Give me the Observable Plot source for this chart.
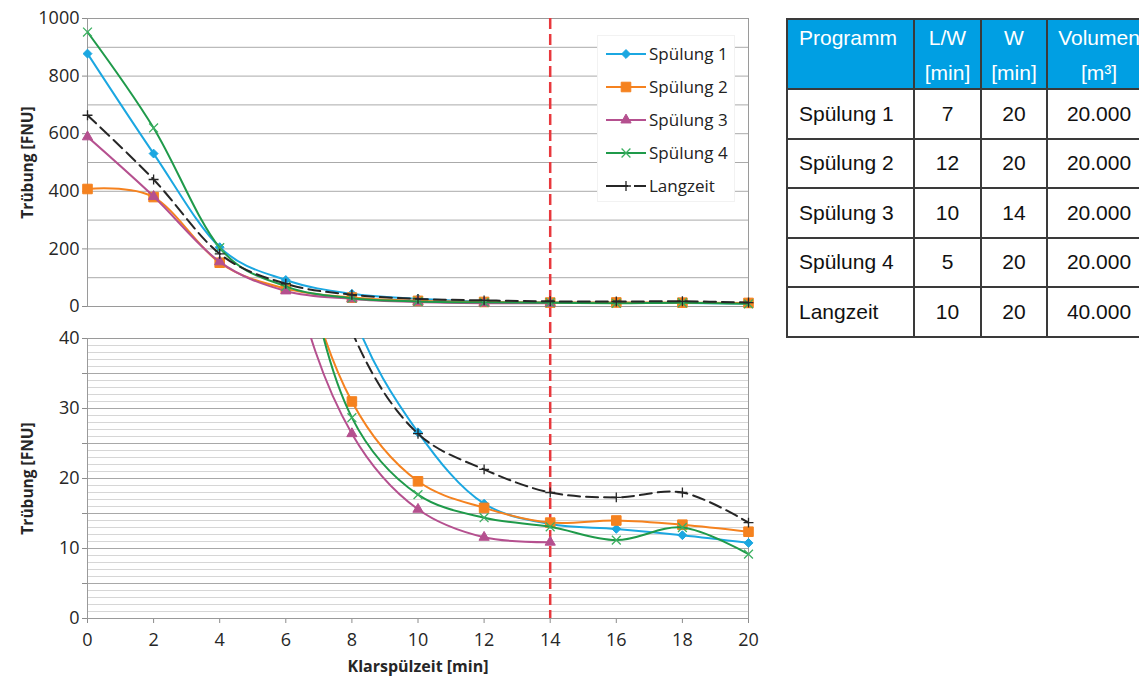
<!DOCTYPE html>
<html><head><meta charset="utf-8">
<script src="https://cdn.jsdelivr.net/npm/d3@7"></script>
<script src="https://cdn.jsdelivr.net/npm/@observablehq/plot@0.6"></script>
<style>
body{margin:0;background:#fff;overflow:hidden;}
#wrap{position:relative;width:1139px;height:681px;overflow:hidden;font-family:"Open Sans",sans-serif;}
#top,#bot{position:absolute;left:0;}
#top{top:0px} #bot{top:322px}
#top svg,#bot svg{display:block;overflow:visible}
#legend{position:absolute;left:597px;top:35px;width:138px;height:167px;background:#fff;border:1px solid #f2f2f2;box-sizing:border-box;padding-top:1px;}
.lrow{height:33px;display:flex;align-items:center;}
.lrow svg{margin-left:7px;flex:none}
.lrow span{margin-left:2px;font-size:17px;color:#222;font-family:"Open Sans",sans-serif;}
#tbl{position:absolute;left:786px;top:18px;width:364px;border-collapse:collapse;font-family:"Liberation Sans",Arial,sans-serif;font-size:21px;table-layout:fixed;}
#tbl td,#tbl th{border:2px solid #3a3a3a;padding:0;}
#tbl th{background:#009fe3;color:#fff;font-weight:normal;height:68px;vertical-align:top;text-align:center;}
#tbl th div{height:68px;line-height:35px;overflow:visible;}
#tbl th.first{text-align:left;padding-left:11px;}
#tbl td{height:47.5px;text-align:center;color:#111;}
#tbl td.first{text-align:left;padding-left:11px;}
</style></head>
<body>
<div id="wrap">
  <div id="top"></div>
  <div id="bot"></div>
  <div id="legend"></div>
  <table id="tbl"></table>
</div>
<script>
// ---- data ----
const xs = [0, 2, 4, 6, 8, 10, 12, 14, 16, 18, 20];
const names = ["Spülung 1", "Spülung 2", "Spülung 3", "Spülung 4", "Langzeit"];
const s1 = [878, 531, 206, 92, 44, 26.6, 16.4, 13.5, 12.8, 11.9, 10.8];
const s2 = [408, 380, 152, 62, 31.0, 19.6, 15.8, 13.7, 14.0, 13.4, 12.4];
const s3 = [589, 382, 155, 54, 26.4, 15.6, 11.6, 10.9];
const s4 = [953, 620, 204, 70, 28.7, 17.7, 14.4, 13.1, 11.2, 13.0, 9.2];
const lz = [664, 441, 183, 79, 41, 26.4, 21.3, 18.0, 17.3, 18.0, 13.7];
const markerX = 14;
const topTicks = [0, 200, 400, 600, 800, 1000];
const botTicks = [0, 5, 10, 15, 20, 25, 30, 35, 40];
const xTicks = [0, 2, 4, 6, 8, 10, 12, 14, 16, 18, 20];
const yLabel = "Trübung [FNU]";
const xLabel = "Klarspülzeit [min]";

const tableHead = [["Programm", ""], ["L/W", "[min]"], ["W", "[min]"], ["Volumen", "[m³]"]];
const programs = ["Spülung 1", "Spülung 2", "Spülung 3", "Spülung 4", "Langzeit"];
const lwMin = [7, 12, 10, 5, 10];
const wMin = [20, 20, 14, 20, 20];
const volumen = ["20.000", "20.000", "20.000", "20.000", "40.000"];

// ---- styles ----
const colors = ["#1ba7e1", "#f5821f", "#b5508f", "#1f9a4a", "#262626"];
const symbols = ["diamond2", "square", "triangle", "times", "plus"];
const radii = [4.0, 5.4, 3.8, 4.1, 3.3];
const filled = [true, true, true, false, false];
const markerStroke = ["#1ba7e1", "#f5821f", "#b5508f", "#3cb061", "#262626"];

const values = [s1, s2, s3, s4, lz];
const series = names.map((name, i) => ({
  name, i,
  data: values[i].map((v, j) => ({x: xs[j], y: v}))
}));

function seriesMarks(yMax, curve) {
  return series.flatMap(s => {
    const i = s.i;
    const pts = yMax == null ? s.data : s.data.filter(d => d.y <= yMax);
    const opts = {x: "x", y: "y", stroke: colors[i], strokeWidth: 2, curve,
        strokeDasharray: s.name === "Langzeit" ? "12,6" : undefined, clip: true};
    if (curve === "cardinal") opts.tension = 0;
    return [
      Plot.line(s.data, opts),
      Plot.dot(pts, {x: "x", y: "y", symbol: symbols[i], r: radii[i],
        fill: filled[i] ? colors[i] : "none", stroke: markerStroke[i], strokeWidth: filled[i] ? 1 : 1.3})
    ];
  });
}

const baseStyle = {fontFamily: "Open Sans", fontSize: "18px", color: "#262626", background: "transparent", overflow: "visible"};
const fmt = d => String(d);

const topPlot = Plot.plot({
  width: 770, height: 322, marginTop: 18, marginBottom: 16, marginLeft: 87, marginRight: 22,
  x: {domain: [0, 20], axis: null},
  y: {domain: [0, 1000]},
  style: baseStyle,
  marks: [
    Plot.gridY(d3.range(0, 1001, 100), {stroke: "#aaaaaa", strokeOpacity: 1}),
    Plot.axisY(topTicks, {tickSize: 5, tickPadding: 3, stroke: "#8c8c8c", fill: "#262626", label: null, fontSize: 18, tickFormat: fmt}),
    Plot.frame({stroke: "#9a9a9a"}),
    Plot.ruleX([markerX], {stroke: "#e8383d", strokeWidth: 2.5, strokeDasharray: "11,5", insetBottom: -16}),
    ...seriesMarks(null, "cardinal"),
    Plot.text([yLabel], {frameAnchor: "left", dx: -59, rotate: -90, textAnchor: "middle", fontWeight: "bold", fontSize: 15.5, fill: "#262626"})
  ]
});
document.getElementById("top").append(topPlot);

const botPlot = Plot.plot({
  width: 770, height: 359, marginTop: 16, marginBottom: 63, marginLeft: 87, marginRight: 22,
  x: {domain: [0, 20]},
  y: {domain: [0, 40]},
  style: baseStyle,
  marks: [
    Plot.gridY(d3.range(0, 41, 1), {stroke: "#d6d6d6", strokeOpacity: 1}),
    Plot.gridY(botTicks, {stroke: "#a8a8a8", strokeOpacity: 1}),
    Plot.axisY(botTicks, {tickSize: 5, tickPadding: 3, stroke: "#8c8c8c", fill: "#262626", label: null, fontSize: 18, tickFormat: d => d % 10 === 0 ? String(d) : ""}),
    Plot.axisX(xTicks, {tickSize: 5, tickPadding: 10, stroke: "#8c8c8c", fill: "#262626", label: null, fontSize: 18, tickFormat: fmt}),
    Plot.frame({stroke: "#9a9a9a"}),
    Plot.ruleX([markerX], {stroke: "#e8383d", strokeWidth: 2.5, strokeDasharray: "11,5", insetTop: -16}),
    ...seriesMarks(40, "catmull-rom"),
    Plot.text([yLabel], {frameAnchor: "left", dx: -59, rotate: -90, textAnchor: "middle", fontWeight: "bold", fontSize: 15.5, fill: "#262626"}),
    Plot.text([xLabel], {frameAnchor: "bottom", dy: 48, lineAnchor: "middle", textAnchor: "middle", fontWeight: "bold", fontSize: 16, fill: "#262626"})
  ]
});
document.getElementById("bot").append(botPlot);

// ---- legend ----
const ns = "http://www.w3.org/2000/svg";
const legend = document.getElementById("legend");
const symMap = {diamond2: d3.symbolDiamond2, square: d3.symbolSquare, triangle: d3.symbolTriangle, times: d3.symbolTimes, plus: d3.symbolPlus};
series.forEach(s => {
  const i = s.i;
  const row = document.createElement("div");
  row.className = "lrow";
  const svg = document.createElementNS(ns, "svg");
  svg.setAttribute("width", 42); svg.setAttribute("height", 16);
  const line = document.createElementNS(ns, "line");
  line.setAttribute("x1", 1); line.setAttribute("x2", 41); line.setAttribute("y1", 8); line.setAttribute("y2", 8);
  line.setAttribute("stroke", colors[i]); line.setAttribute("stroke-width", 2);
  if (s.name === "Langzeit") line.setAttribute("stroke-dasharray", "22,6,12");
  svg.append(line);
  const p = document.createElementNS(ns, "path");
  p.setAttribute("d", d3.symbol(symMap[symbols[i]], Math.PI * radii[i] * radii[i])());
  p.setAttribute("transform", "translate(21,8)");
  p.setAttribute("fill", filled[i] ? colors[i] : "none");
  p.setAttribute("stroke", markerStroke[i]);
  p.setAttribute("stroke-width", filled[i] ? 1 : 1.3);
  svg.append(p);
  const t = document.createElement("span");
  t.textContent = s.name;
  row.append(svg, t);
  legend.append(row);
});

// ---- table ----
const colW = [127, 67, 66, 104];
const tbl = document.getElementById("tbl");
const colgroup = document.createElement("colgroup");
colW.forEach(w => { const c = document.createElement("col"); c.style.width = w + "px"; colgroup.append(c); });
tbl.append(colgroup);
const hr = document.createElement("tr");
tableHead.forEach((h, k) => {
  const th = document.createElement("th");
  if (k === 0) th.className = "first";
  const div = document.createElement("div");
  div.innerHTML = h[0] + "<br>" + (h[1] || "&nbsp;");
  th.append(div);
  hr.append(th);
});
tbl.append(hr);
programs.forEach((p, r) => {
  const tr = document.createElement("tr");
  [p, lwMin[r], wMin[r], volumen[r]].forEach((v, k) => {
    const td = document.createElement("td");
    if (k === 0) td.className = "first";
    td.textContent = v;
    tr.append(td);
  });
  tbl.append(tr);
});
</script>
</body></html>
